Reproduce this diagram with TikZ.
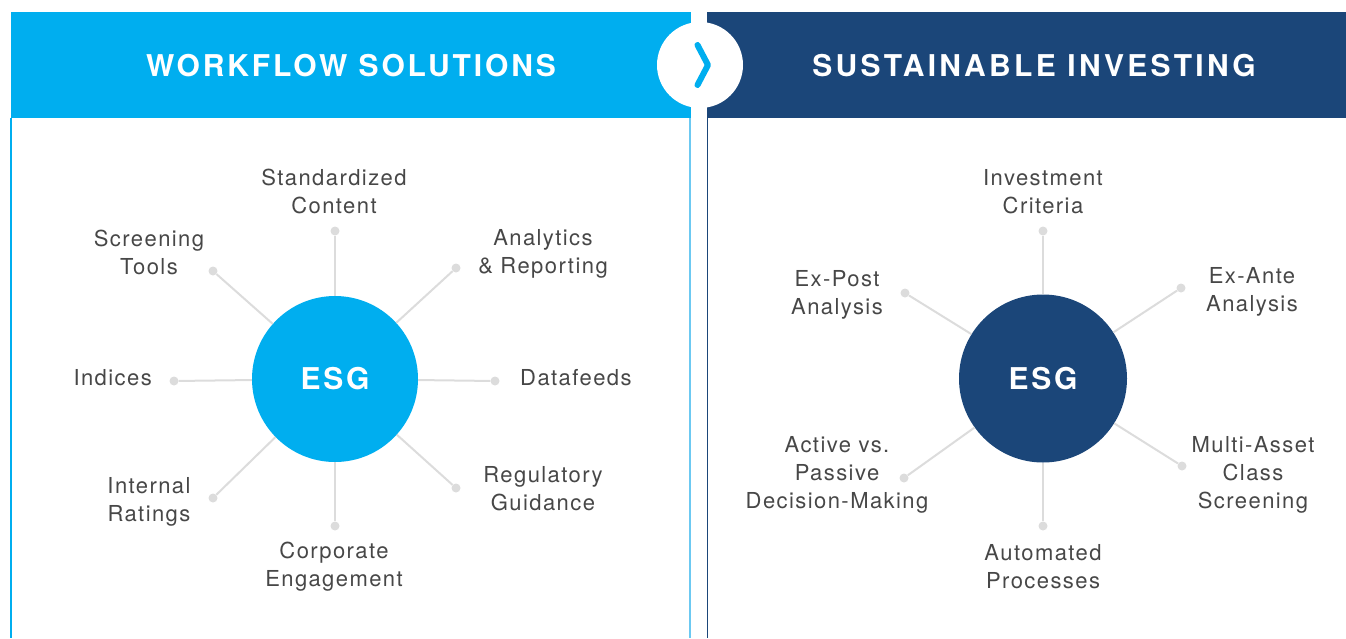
\documentclass[tikz,border=0pt]{standalone}
\usepackage{fontspec}
\setmainfont{TeX Gyre Heros}
\newfontfamily\labfont[LetterSpace=6.5]{TeX Gyre Heros}
\newfontfamily\hdrfontL[LetterSpace=9.6]{TeX Gyre Heros}
\newfontfamily\hdrfontR[LetterSpace=11]{TeX Gyre Heros}
\newfontfamily\esgfont[LetterSpace=9]{TeX Gyre Heros}
\definecolor{cyanL}{HTML}{00AEEF}
\definecolor{navyR}{HTML}{1B4679}
\definecolor{lineC}{HTML}{DCDCDC}
\definecolor{txtC}{HTML}{474747}
\definecolor{edgeL}{HTML}{6CC9F2}
\tikzset{
  lab/.style={text=txtC, align=center, font=\labfont\fontsize{22}{28}\selectfont, inner sep=0pt},
  hdr/.style={text=white, font=\bfseries\fontsize{30}{36}\selectfont, inner sep=0pt},
  esg/.style={circle, minimum size=#1, inner sep=0pt, text=white, font=\esgfont\bfseries\fontsize{30}{36}\selectfont},
  dotn/.style={circle, fill=lineC, minimum size=9pt, inner sep=0pt},
  spoke/.style={draw=lineC, line width=2pt}
}
\begin{document}
\begin{tikzpicture}[x=1pt, y=-1pt]
\useasboundingbox (0,0) rectangle (1346,638);
% headers
\fill[cyanL] (11,12) rectangle (691,118);
\fill[navyR] (707,12) rectangle (1346,118);
\draw[cyanL, line width=1.3pt] (11,118) -- (11,638);
\draw[edgeL, line width=1.3pt] (690,118) -- (690,638);
\draw[navyR, line width=1.3pt] (707.5,118) -- (707.5,638);
\node[hdr, font=\hdrfontL\bfseries\fontsize{30}{36}\selectfont] (hL) at (351,66) {WORKFLOW SOLUTIONS};
\node[hdr, font=\hdrfontR\bfseries\fontsize{30}{36}\selectfont] (hR) at (1034,66) {SUSTAINABLE INVESTING};
% chevron circle
\node[circle, fill=white, minimum size=86pt, inner sep=0pt] (chev) at (700,65) {};
\coordinate (c1) at (697.5,45);
\coordinate (c2) at (708,65);
\coordinate (c3) at (697.5,85);
\draw[cyanL, line width=6pt, line cap=round, line join=round] (c1) -- (c2) -- (c3);

% LEFT panel
\node[esg=166pt, fill=cyanL] (eL) at (335,379) {ESG};
\node[dotn] (l1) at (335,231) {};
\node[dotn] (l2) at (456,268) {};
\node[dotn] (l3) at (495,381) {};
\node[dotn] (l4) at (456,488) {};
\node[dotn] (l5) at (335,526) {};
\node[dotn] (l6) at (213,498) {};
\node[dotn] (l7) at (174,381) {};
\node[dotn] (l8) at (213,271) {};
\foreach \d in {l1,l2,l3,l4,l5,l6,l7,l8} \draw[spoke] (eL) -- (\d);
\node[lab] (t1) at (334,191) {Standardized\\Content};
\node[lab] (t2) at (149,252) {Screening\\Tools};
\node[lab] (t3) at (543,254) {Analytics\\\& Reporting};
\node[lab, anchor=east] (t4) at (152,378) {Indices};
\node[lab, anchor=west] (t5) at (520,378) {Datafeeds};
\node[lab] (t6) at (149,502) {Internal\\Ratings};
\node[lab] (t7) at (543,489) {Regulatory\\Guidance};
\node[lab] (t8) at (334,567) {Corporate\\Engagement};

% RIGHT panel
\node[esg=168pt, fill=navyR] (eR) at (1043,378.5) {ESG};
\node[dotn] (r1) at (1043,231) {};
\node[dotn] (r2) at (1181,288) {};
\node[dotn] (r3) at (1182,466) {};
\node[dotn] (r4) at (1043,526) {};
\node[dotn] (r5) at (904,478) {};
\node[dotn] (r6) at (905,293) {};
\foreach \d in {r1,r2,r3,r4,r5,r6} \draw[spoke] (eR) -- (\d);
\node[lab] (s1) at (1043,192) {Investment\\Criteria};
\node[lab] (s2) at (837,295) {Ex-Post\\Analysis};
\node[lab] (s3) at (1252,292) {Ex-Ante\\Analysis};
\node[lab] (s4) at (837,475) {Active vs.\\Passive\\Decision-Making};
\node[lab] (s5) at (1253,475) {Multi-Asset\\Class\\Screening};
\node[lab] (s6) at (1043,567) {Automated\\Processes};
\end{tikzpicture}
\end{document}
